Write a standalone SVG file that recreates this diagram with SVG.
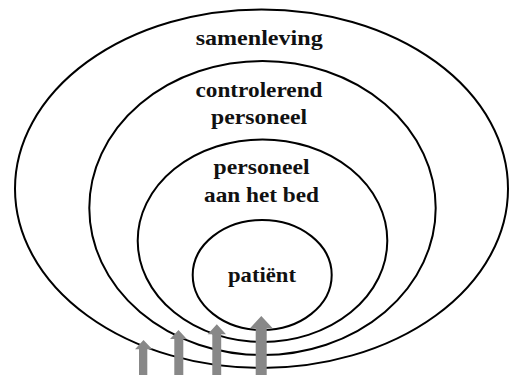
<svg xmlns="http://www.w3.org/2000/svg" width="510" height="375" viewBox="0 0 510 375">
<style>
.ring{fill:none;stroke:#000;stroke-width:2}
.lbl{font-family:"Liberation Serif","Times New Roman",serif;font-weight:bold;font-size:22px;fill:#111;text-anchor:middle}
.arr{fill:#888}
</style>
<rect width="510" height="375" fill="#fff"/>
<g id="samenleving">
<ellipse class="ring" cx="261.5" cy="188.7" rx="246.5" ry="179.3"/>
<text class="lbl" x="259.2" y="45" textLength="127" lengthAdjust="spacingAndGlyphs">samenleving</text>
</g>
<g id="controlerend-personeel">
<ellipse class="ring" cx="262.5" cy="208" rx="173.2" ry="147"/>
<text class="lbl" x="259" y="97" textLength="127" lengthAdjust="spacingAndGlyphs">controlerend</text>
<text class="lbl" x="259" y="124" textLength="96" lengthAdjust="spacingAndGlyphs">personeel</text>
</g>
<g id="personeel-aan-het-bed">
<ellipse class="ring" cx="262.5" cy="240.7" rx="124.8" ry="101.3"/>
<text class="lbl" x="261.5" y="174" textLength="96" lengthAdjust="spacingAndGlyphs">personeel</text>
<text class="lbl" x="261.5" y="202" textLength="115" lengthAdjust="spacingAndGlyphs">aan het bed</text>
</g>
<g id="patient">
<ellipse class="ring" cx="262.2" cy="275" rx="69.5" ry="55"/>
<text class="lbl" x="262" y="282" textLength="68" lengthAdjust="spacingAndGlyphs">patiënt</text>
</g>
<g id="connectors">
<polygon class="arr" points="139,375 139,349.3 135,349.3 143.5,340 152.3,349.3 147.3,349.3 147.3,375"/>
<polygon class="arr" points="174.3,375 174.3,339 170,339 178.5,330 186.8,339 183.3,339 183.3,375"/>
<polygon class="arr" points="212.3,375 212.3,334.3 207.7,334.3 216.8,324.3 226,334.3 221.2,334.3 221.2,375"/>
<polygon class="arr" points="255.7,375 255.7,328.3 250,328.3 261.3,316 272.7,328.3 266.7,328.3 266.7,375"/>
</g>
</svg>
